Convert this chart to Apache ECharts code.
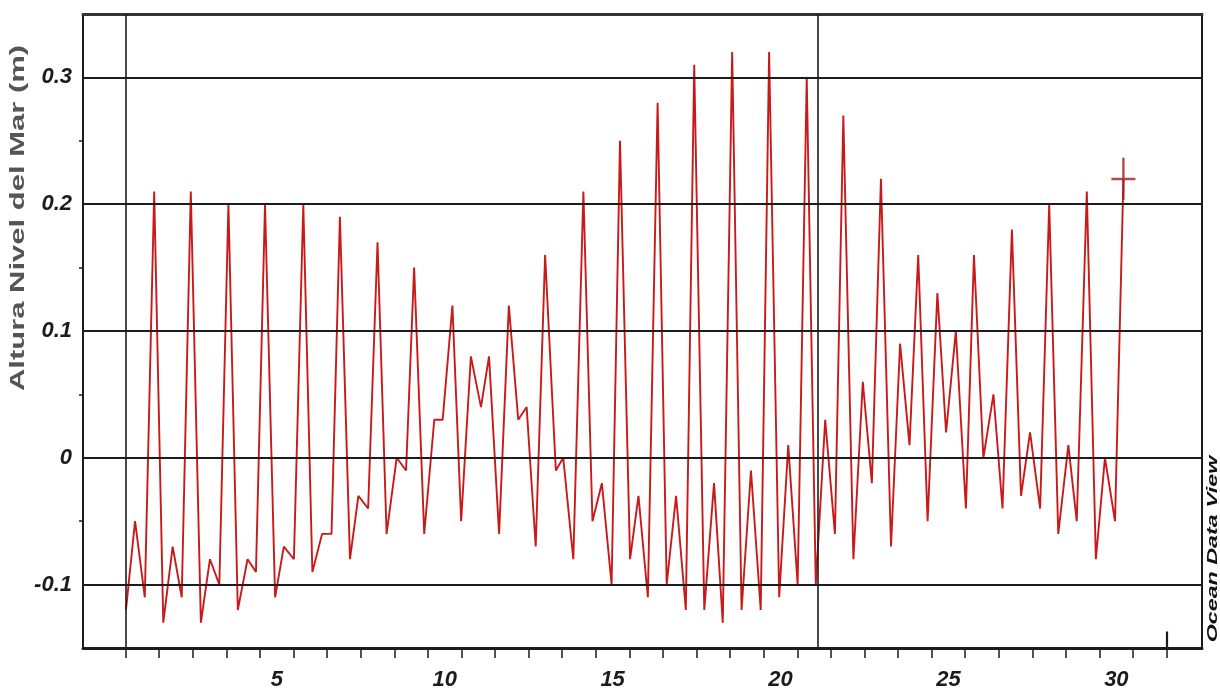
<!DOCTYPE html>
<html>
<head>
<meta charset="utf-8">
<script src="https://cdn.jsdelivr.net/npm/echarts@6/dist/echarts.min.js"></script>
<style>
html,body{margin:0;padding:0;background:#fff;}
#chart{width:1220px;height:692px;}
</style>
</head>
<body>
<div id="chart"></div>
<script>
// Time (days) and sea level height (m)
const days = [
  1.01,1.28,1.57,1.85,2.12,2.40,2.67,2.94,3.24,3.51,3.79,4.06,4.34,4.63,4.88,5.15,5.45,5.71,6.01,
  6.29,6.56,6.85,7.13,7.38,7.68,7.93,8.22,8.50,8.77,9.07,9.35,9.59,9.89,10.19,10.44,10.73,10.99,11.28,
  11.58,11.82,12.12,12.41,12.69,12.94,13.21,13.49,13.81,14.03,14.33,14.63,14.90,15.18,15.47,15.72,16.02,16.27,16.55,
  16.84,17.11,17.39,17.68,17.93,18.23,18.52,18.78,19.06,19.34,19.62,19.91,20.16,20.46,20.73,21.01,21.28,21.55,
  21.83,22.12,22.37,22.67,22.95,23.22,23.49,23.79,24.06,24.34,24.60,24.88,25.17,25.43,25.72,26.02,26.26,
  26.54,26.84,27.11,27.39,27.66,27.93,28.23,28.50,28.77,29.07,29.32,29.62,29.89,30.16,30.46,30.71
];
const seaLevel = [
  -0.12,-0.05,-0.11,0.21,-0.13,-0.07,-0.11,0.21,-0.13,-0.08,-0.10,0.20,-0.12,-0.08,-0.09,0.20,-0.11,-0.07,-0.08,
  0.20,-0.09,-0.06,-0.06,0.19,-0.08,-0.03,-0.04,0.17,-0.06,0.00,-0.01,0.15,-0.06,0.03,0.03,0.12,-0.05,0.08,
  0.04,0.08,-0.06,0.12,0.03,0.04,-0.07,0.16,-0.01,0.00,-0.08,0.21,-0.05,-0.02,-0.10,0.25,-0.08,-0.03,-0.11,
  0.28,-0.10,-0.03,-0.12,0.31,-0.12,-0.02,-0.13,0.32,-0.12,-0.01,-0.12,0.32,-0.11,0.01,-0.10,0.30,-0.10,
  0.03,-0.06,0.27,-0.08,0.06,-0.02,0.22,-0.07,0.09,0.01,0.16,-0.05,0.13,0.02,0.10,-0.04,0.16,
  0.00,0.05,-0.04,0.18,-0.03,0.02,-0.04,0.20,-0.06,0.01,-0.05,0.21,-0.08,0.00,-0.05,0.22
];
const xTickDays = [1,2,3,4,5,6,7,8,9,10,11,12,13,14,15,16,17,18,19,20,21,22,23,24,25,26,27,28,29,30,31,32];
const xLabelDays = [5,10,15,20,25,30];
const xTickLabels = ['5','10','15','20','25','30'];
const yGridValues = [-0.1,0,0.1,0.2,0.3];
const yTickLabels = ['-0.1','0','0.1','0.2','0.3'];
const yMinorTicks = [-0.05,0.05,0.15,0.25];
const verticalLines = [1, 21.62];
const endTickDay = 32;
const yAxisName = 'Altura Nivel del Mar (m)';
const watermark = 'Ocean Data View';

const xLabelPos = xLabelDays.map(d => d + 0.5);
const pts = days.map((d, i) => [d, seaLevel[i]]);
const last = pts[pts.length - 1];

const FONT = '"Liberation Sans", Arial, sans-serif';
const INK = '#1c1c1c';

const chart = echarts.init(document.getElementById('chart'));
chart.setOption({
  animation: false,
  backgroundColor: '#fff',
  grid: {left: 83, top: 14, right: 18, bottom: 44, show: true, borderColor: INK, borderWidth: 2, backgroundColor: 'transparent'},
  xAxis: [{
    type: 'value', min: -0.27, max: 33.05, position: 'bottom',
    axisLine: {show: true, onZero: false, lineStyle: {color: INK, width: 3}},
    axisTick: {show: true, customValues: xTickDays, length: 10, inside: false, lineStyle: {color: INK, width: 1.5}},
    axisLabel: {show: true, customValues: xLabelPos, margin: 21,
      formatter: v => { const k = xLabelPos.findIndex(p => Math.abs(p - v) < 1e-6); return k >= 0 ? xTickLabels[k] : ''; },
      fontFamily: FONT, fontSize: 22, fontWeight: 'bold', fontStyle: 'italic', color: INK},
    splitLine: {show: false}
  }, {
    type: 'value', min: -0.27, max: 33.05, position: 'top',
    axisLine: {show: true, onZero: false, lineStyle: {color: '#333', width: 3}},
    axisTick: {show: false}, axisLabel: {show: false}, splitLine: {show: false}
  }],
  yAxis: {
    type: 'value', min: -0.15, max: 0.35,
    axisLine: {show: true, onZero: false, lineStyle: {color: INK, width: 2}},
    axisTick: {show: true, customValues: yMinorTicks, length: 4, lineStyle: {color: INK, width: 1.5}},
    axisLabel: {show: true, customValues: yGridValues, margin: 11,
      formatter: v => { const k = yGridValues.findIndex(p => Math.abs(p - v) < 1e-6); return k >= 0 ? yTickLabels[k] : ''; },
      fontFamily: FONT, fontSize: 22, fontWeight: 'bold', fontStyle: 'italic', color: INK},
    splitLine: {show: false}
  },
  series: [{
    type: 'line', data: [], z: 1, silent: true,
    markLine: {
      silent: true, symbol: 'none', animation: false,
      label: {show: false},
      lineStyle: {color: INK, width: 2.2, type: 'solid'},
      data: yGridValues.map(v => ({yAxis: v}))
        .concat(verticalLines.map(v => ({xAxis: v, lineStyle: {width: 1.6}})))
        .concat([[{coord: [endTickDay, -0.15]}, {coord: [endTickDay, -0.137]}]])
    }
  }, {
    type: 'line', data: pts, z: 3, showSymbol: false, symbol: 'none', silent: true,
    lineStyle: {color: '#c91a1a', width: 1.9},
    clip: true
  }, {
    type: 'scatter', data: [last], z: 4, silent: true,
    symbol: 'path://M0,20 L24,20 L24,22.4 L0,22.4 Z M10.8,0 L13.2,0 L13.2,42 L10.8,42 Z',
    symbolSize: [24, 42],
    itemStyle: {color: '#9e1f1f'}
  }],
  graphic: [{
    type: 'text', x: 18, y: 218, rotation: Math.PI / 2, scaleX: 1.55, silent: true,
    style: {text: yAxisName, font: 'bold 20px ' + FONT, fill: '#555555', textAlign: 'center', textVerticalAlign: 'middle'}
  }, {
    type: 'text', x: 1213, y: 549, rotation: Math.PI / 2, scaleX: 1.55, silent: true,
    style: {text: watermark, font: 'bold italic 15px ' + FONT, fill: '#111', textAlign: 'center', textVerticalAlign: 'middle'}
  }]
});
</script>
</body>
</html>
